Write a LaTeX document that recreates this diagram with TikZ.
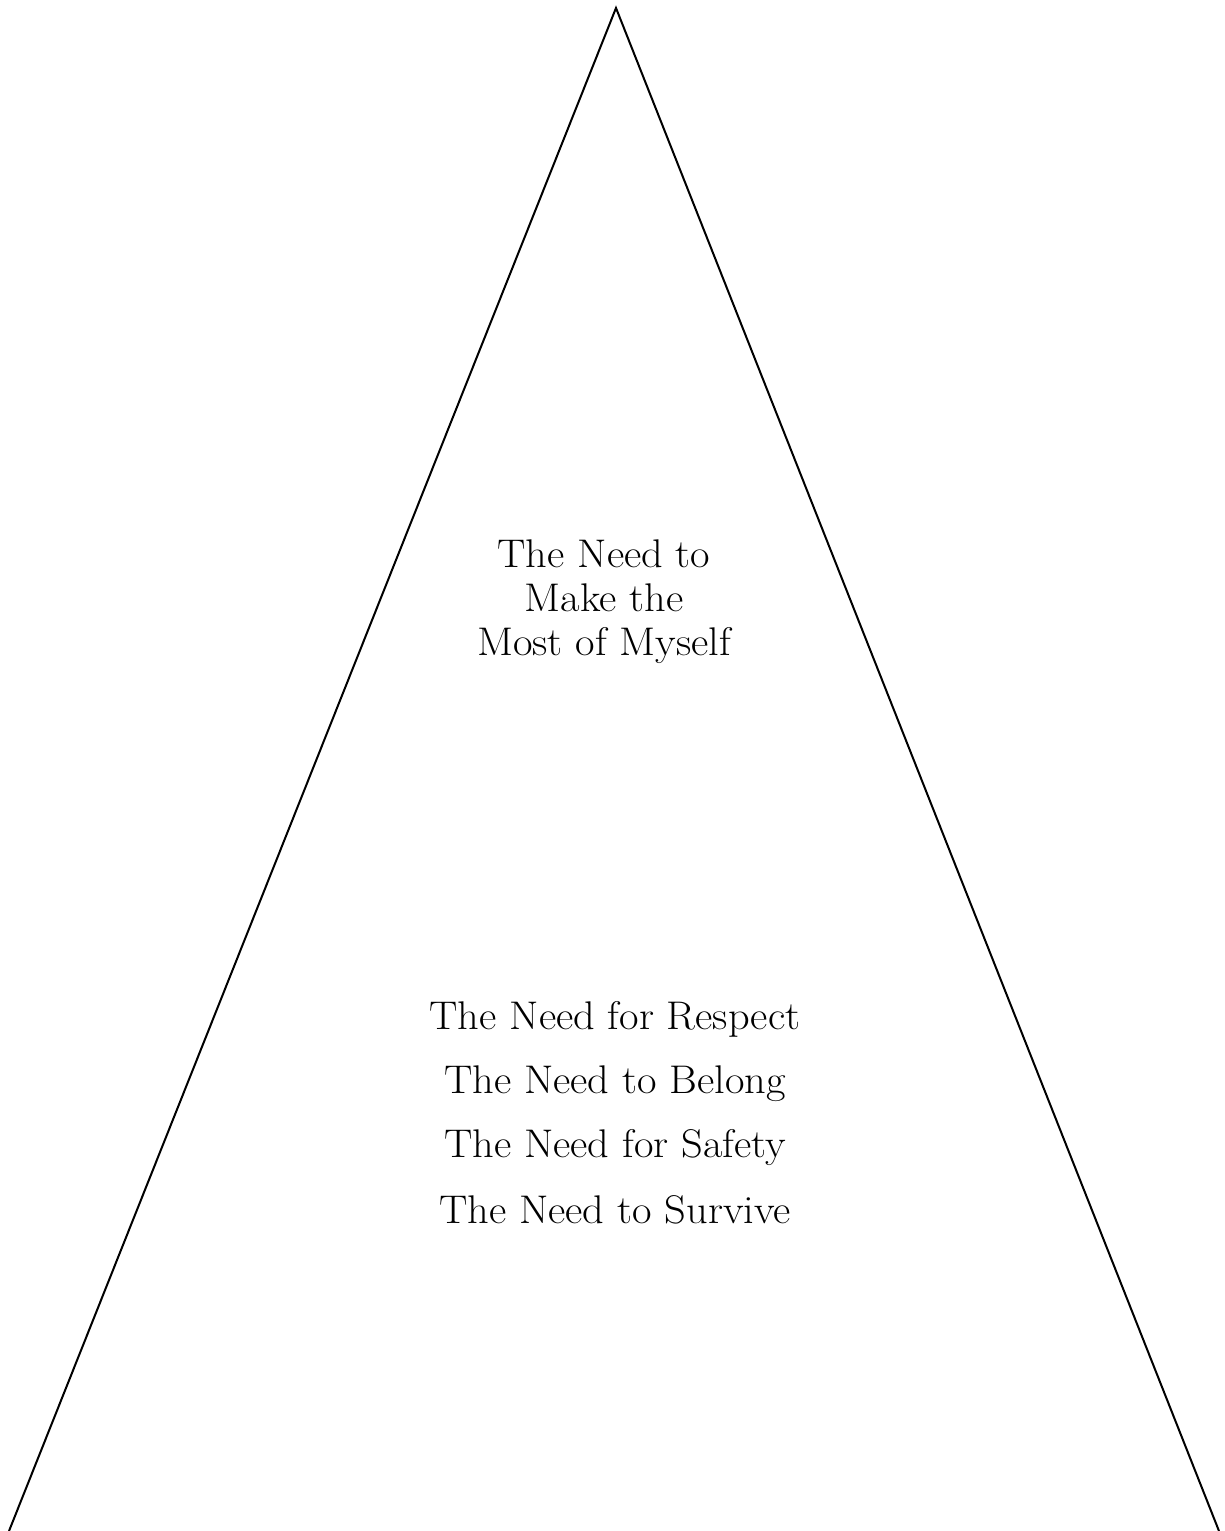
\documentclass[tikz,border=0pt]{standalone}
\usepackage{graphicx}
\newcommand\widetext[1]{\scalebox{1.06}[1]{#1}}
\begin{document}
\begin{tikzpicture}[x=1pt,y=-1pt,
  edge/.style={line width=2pt,line join=miter},
  lbl/.style={font=\fontsize{40}{44}\selectfont,align=center,inner sep=0pt,anchor=base}]
\useasboundingbox (0,0) rectangle (1225,1531);
\coordinate (apex) at (616,8);
\coordinate (bl) at (9,1531);
\coordinate (br) at (1219,1531);
\draw[edge] (bl) -- (apex) -- (br);
\node[lbl] (t1) at (604,567) {\widetext{The Need to}};
\node[lbl] (t2) at (604,611) {\widetext{Make the}};
\node[lbl] (t3) at (604,655) {\widetext{Most of Myself}};
\node[lbl] (r1) at (615,1029) {\widetext{The Need for Respect}};
\node[lbl] (r2) at (615,1093) {\widetext{The Need to Belong}};
\node[lbl] (r3) at (615,1157) {\widetext{The Need for Safety}};
\node[lbl] (r4) at (615,1223) {\widetext{The Need to Survive}};
\end{tikzpicture}
\end{document}
